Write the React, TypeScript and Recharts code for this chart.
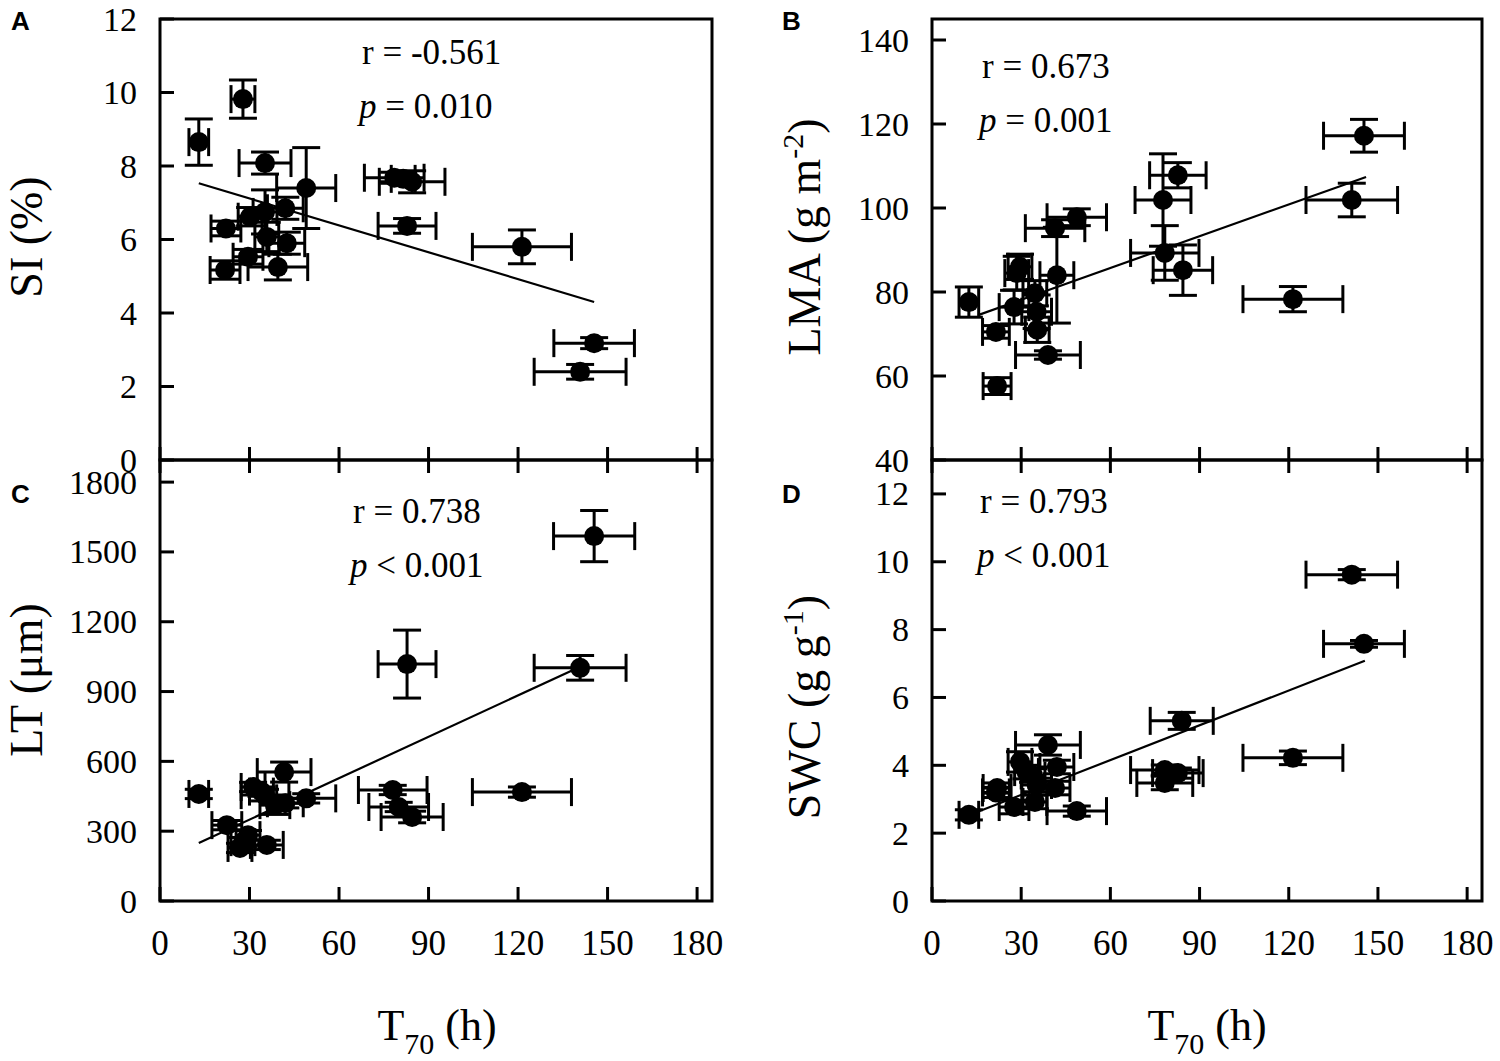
import React from 'react';
import { ScatterChart, Scatter, XAxis, YAxis, ErrorBar, ReferenceLine, ReferenceArea } from 'recharts';

const SERIF = '"Liberation Serif", "Times New Roman", serif';
const SANS = '"Liberation Sans", Arial, sans-serif';

const t70Ticks = [0, 30, 60, 90, 120, 150, 180];
const t70Domain = [0, 185];

// A: SI (%)
const siT70 = [13, 27.8, 35.2, 49, 78.5, 81.5, 84.5, 82.8, 121.3, 145.5, 140.8, 22.1, 21.8, 29.5, 39.5, 30.2, 35.2, 42, 35.8, 42.5];
const siT70Err = [3.3, 4, 8.7, 9.9, 10, 4, 11, 9.7, 16.6, 13.5, 15.4, 5, 5, 5, 10, 4, 4, 6, 4, 6];
const siValues = [8.65, 9.82, 8.08, 7.4, 7.68, 7.65, 7.57, 6.37, 5.8, 3.18, 2.4, 6.3, 5.17, 5.53, 5.25, 6.62, 6.75, 6.85, 6.07, 5.9];
const siErr = [0.63, 0.52, 0.3, 1.1, 0.15, 0.15, 0.3, 0.2, 0.46, 0.15, 0.2, 0.2, 0.25, 0.2, 0.35, 0.25, 0.6, 0.3, 0.4, 0.3];
const siFit = [[13, 7.53], [145.5, 4.3]];
const siTicks = [0, 2, 4, 6, 8, 10, 12];

// B: LMA (g m-2)
const lmaT70 = [12.4, 21.9, 21.5, 27.6, 29.6, 28.5, 34.6, 35.2, 35.4, 39, 42, 41.4, 48.7, 77.7, 82.7, 78.3, 84.4, 145.3, 141.2, 121.4];
const lmaT70Err = [3.3, 4.7, 4.5, 5, 4, 4, 4, 5, 4, 10.9, 5.7, 10, 10, 9.4, 9.5, 11.5, 10, 13.6, 15.4, 16.8];
const lmaValues = [77.6, 57.6, 70.5, 76.4, 86, 84.5, 79.7, 75.3, 71, 65, 84, 95.2, 97.8, 101.9, 107.8, 89.3, 85.2, 117.2, 101.9, 78.3];
const lmaErr = [3.6, 2, 1.5, 4, 3, 4, 3, 4, 3, 1, 11.4, 2, 2, 11, 3, 6.5, 6, 3.9, 4, 3];
const lmaFit = [[15.5, 74.5], [146, 107.4]];
const lmaTicks = [40, 60, 80, 100, 120, 140];

// C: LT (μm)
const ltT70 = [13, 41.6, 82.8, 145.5, 140.8, 121.3, 78, 80, 84.5, 49, 31.2, 35.2, 38.5, 22.4, 27.8, 29.5, 35.8, 26.8, 42, 34];
const ltT70Err = [3.3, 9, 9.7, 13.6, 15.4, 16.6, 11.5, 10, 10.4, 9.9, 4, 8, 5, 5, 4, 4, 5.5, 4, 6, 4];
const ltValues = [460, 554, 1018, 1568, 1002, 468, 477, 404, 361, 441, 490, 455, 412, 326, 253, 283, 241, 228, 420, 470];
const ltErr = [20, 43, 146, 110, 53, 22, 20, 20, 25, 20, 20, 25, 40, 20, 20, 20, 20, 20, 20, 20];
const ltFit = [[13, 249], [143, 1020]];
const ltTicks = [0, 300, 600, 900, 1200, 1500, 1800];

// D: SWC (g g-1)
const swcT70 = [141.2, 145.3, 121.4, 84, 78.3, 82.7, 78.3, 12.4, 48.7, 39, 21.9, 21.5, 27.6, 29.6, 31.8, 34.6, 35.2, 42, 41.4, 34];
const swcT70Err = [15.4, 13.6, 16.8, 10.6, 11.5, 8.5, 9.4, 3.3, 10, 10.9, 4.7, 4.5, 5, 4, 4, 4, 5, 5.7, 5, 4];
const swcValues = [9.62, 7.58, 4.22, 5.31, 3.86, 3.77, 3.48, 2.54, 2.65, 4.6, 3.33, 3.2, 2.77, 4.1, 3.8, 2.92, 3.42, 3.95, 3.33, 3.7];
const swcErr = [0.15, 0.1, 0.2, 0.25, 0.15, 0.15, 0.2, 0.15, 0.15, 0.3, 0.15, 0.15, 0.2, 0.3, 0.2, 0.2, 0.2, 0.2, 0.2, 0.2];
const swcFit = [[12.8, 2.54], [145.6, 7.08]];
const swcTicks = [0, 2, 4, 6, 8, 10, 12];

const rows = (xs: number[], xe: number[], ys: number[], ye: number[]) =>
  xs.map((x, i) => ({ x, xe: xe[i], y: ys[i], ye: ye[i] }));

const Dot = (p: any) => <circle cx={p.cx} cy={p.cy} r={10} fill="#000" />;

const YTick = (props: any) => {
  const { x, y, payload } = props;
  return (
    <g>
      <line x1={x} x2={x + 14} y1={y} y2={y} stroke="#000" strokeWidth={3} />
      <text x={x - 23} y={y} dy="0.34em" textAnchor="end" fontFamily={SERIF} fontSize={34} fill="#000">
        {payload.value}
      </text>
    </g>
  );
};

const XTickTop = (props: any) => {
  const { x, y } = props;
  return <line x1={x} x2={x} y1={y - 13} y2={y + 13} stroke="#000" strokeWidth={3} />;
};

const XTickBottom = (props: any) => {
  const { x, y, payload } = props;
  return (
    <g>
      <line x1={x} x2={x} y1={y - 14} y2={y} stroke="#000" strokeWidth={3} />
      <text x={x} y={y + 54} textAnchor="middle" fontFamily={SERIF} fontSize={35} fill="#000">
        {payload.value}
      </text>
    </g>
  );
};

const Panel = (props: any) => {
  const { left, top, width, height, margin, xAxisHeight, data, fit, yDomain, yTicks, bottom, yTitle, xTitle } = props;
  return (
    <div style={{ position: 'absolute', left, top, width, height }}>
      <ScatterChart width={width} height={height} margin={margin}>
        <XAxis
          type="number"
          dataKey="x"
          domain={t70Domain}
          ticks={t70Ticks}
          allowDataOverflow
          axisLine={false}
          tickLine={false}
          tickSize={0}
          tickMargin={0}
          height={xAxisHeight}
          tick={bottom ? <XTickBottom /> : <XTickTop />}
          interval={0}
          label={xTitle}
        />
        <YAxis
          type="number"
          dataKey="y"
          domain={yDomain}
          ticks={yTicks}
          allowDataOverflow
          axisLine={false}
          tickLine={false}
          tickSize={0}
          tickMargin={0}
          width={160}
          tick={<YTick />}
          interval={0}
          label={yTitle}
        />
        <ReferenceArea
          x1={t70Domain[0]}
          x2={t70Domain[1]}
          y1={yDomain[0]}
          y2={yDomain[1]}
          fill="none"
          fillOpacity={0}
          stroke="#000"
          strokeWidth={3}
        />
        <ReferenceLine
          segment={[{ x: fit[0][0], y: fit[0][1] }, { x: fit[1][0], y: fit[1][1] }]}
          stroke="#000"
          strokeWidth={2.2}
        />
        <Scatter data={data} shape={Dot} isAnimationActive={false}>
          <ErrorBar dataKey="xe" direction="x" width={14} stroke="#000" strokeWidth={3} />
          <ErrorBar dataKey="ye" direction="y" width={14} stroke="#000" strokeWidth={3} />
        </Scatter>
      </ScatterChart>
    </div>
  );
};

const rotTitle = (x: number, y: number, main: string, sup?: string, tail?: string) => () => (
  <text
    transform={`translate(${x},${y}) rotate(-90)`}
    textAnchor="middle"
    fontFamily={SERIF}
    fontSize={46}
    fill="#000"
  >
    <tspan>{main}</tspan>
    {sup ? <tspan dy={-17} fontSize={30}>{sup}</tspan> : null}
    {tail ? <tspan dy={sup ? 17 : 0}>{tail}</tspan> : null}
  </text>
);

const t70Title = (x: number, y: number) => () => (
  <text x={x} y={y} textAnchor="middle" fontFamily={SERIF} fontSize={44} fill="#000">
    <tspan>T</tspan>
    <tspan dy={14} fontSize={30}>70</tspan>
    <tspan dy={-14}> (h)</tspan>
  </text>
);

const Note = ({ x, y, r, rel, p }: any) => (
  <g fontFamily={SERIF} fontSize={35} fill="#000">
    <text x={x} y={y}>{`r = ${r}`}</text>
    <text x={x - 3} y={y + 54}>
      <tspan fontStyle="italic">p</tspan>
      {` ${rel} ${p}`}
    </text>
  </g>
);

export default function App() {
  const topMargin = { top: 19, right: 40, left: 0, bottom: 0 };
  const topMarginR = { top: 19, right: 18, left: 0, bottom: 0 };
  const botMargin = { top: 20, right: 40, left: 0, bottom: 0 };
  const botMarginR = { top: 20, right: 18, left: 0, bottom: 0 };
  return (
    <div style={{ position: 'absolute', left: 0, top: 0, width: 1500, height: 1061, background: '#fff', overflow: 'hidden' }}>
      <Panel
        left={0} top={0} width={752} height={500} margin={topMargin} xAxisHeight={40}
        data={rows(siT70, siT70Err, siValues, siErr)} fit={siFit}
        yDomain={[0, 12]} yTicks={siTicks} bottom={false}
        yTitle={rotTitle(42, 237, 'SI (%)')}
      />
      <Panel
        left={772} top={0} width={728} height={500} margin={topMarginR} xAxisHeight={40}
        data={rows(lmaT70, lmaT70Err, lmaValues, lmaErr)} fit={lmaFit}
        yDomain={[40, 145]} yTicks={lmaTicks} bottom={false}
        yTitle={rotTitle(48, 237, 'LMA (g m', '-2', ')')}
      />
      <Panel
        left={0} top={440} width={752} height={621} margin={botMargin} xAxisHeight={160}
        data={rows(ltT70, ltT70Err, ltValues, ltErr)} fit={ltFit}
        yDomain={[0, 1895]} yTicks={ltTicks} bottom={true}
        yTitle={rotTitle(42, 240, 'LT (μm)')}
        xTitle={t70Title(437, 600)}
      />
      <Panel
        left={772} top={440} width={728} height={621} margin={botMarginR} xAxisHeight={160}
        data={rows(swcT70, swcT70Err, swcValues, swcErr)} fit={swcFit}
        yDomain={[0, 13]} yTicks={swcTicks} bottom={true}
        yTitle={rotTitle(48, 267, 'SWC (g g', '-1', ')')}
        xTitle={t70Title(435, 600)}
      />
      <svg width={1500} height={1061} style={{ position: 'absolute', left: 0, top: 0, pointerEvents: 'none' }}>
        <g fontFamily={SANS} fontWeight="bold" fontSize={26} fill="#000">
          <text x={11} y={30}>A</text>
          <text x={782} y={30}>B</text>
          <text x={11} y={503}>C</text>
          <text x={782} y={503}>D</text>
        </g>
        <Note x={362} y={64} r="-0.561" rel="=" p="0.010" />
        <Note x={982} y={78} r="0.673" rel="=" p="0.001" />
        <Note x={353} y={523} r="0.738" rel="<" p="0.001" />
        <Note x={980} y={513} r="0.793" rel="<" p="0.001" />
      </svg>
    </div>
  );
}
